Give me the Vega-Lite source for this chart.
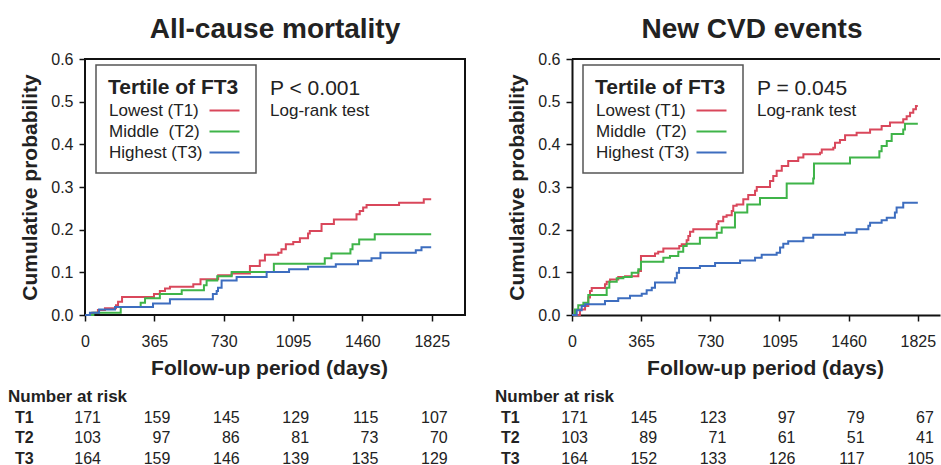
{
  "$schema": "https://vega.github.io/schema/vega-lite/v6.json",
  "background": "white",
  "padding": {"left": 8, "top": 15, "right": 0, "bottom": -1.5},
  "config": {
    "font": "Liberation Sans",
    "view": {"stroke": null},
    "axis": {"grid": false, "labelFont": "Liberation Sans", "labelFontSize": 16, "labelColor": "#222", "titleFont": "Liberation Sans", "titleFontSize": 21, "titleFontWeight": "bold", "titleColor": "#222", "tickColor": "#111", "tickWidth": 1.5, "tickSize": 6, "domainColor": "#111", "domainWidth": 2},
    "title": {"font": "Liberation Sans", "fontSize": 28, "fontWeight": "bold", "color": "#222", "baseline": "alphabetic", "offset": 7, "frame": "group"},
    "legend": {"titleFont": "Liberation Sans", "titleFontSize": 21, "titleFontWeight": "bold", "titleColor": "#222", "labelFont": "Liberation Sans", "labelFontSize": 17, "labelColor": "#222", "strokeColor": "#555", "strokeWidth": 1.5, "fillColor": "white", "padding": 12, "rowPadding": 3, "titlePadding": 4, "titleLimit": 400, "labelLimit": 400},
    "text": {"font": "Liberation Sans", "color": "#222"}
  },
  "datasets": {
    "curves": [
      {"panel":"mort","group":"T1","day":0,"p":0},{"panel":"mort","group":"T1","day":37,"p":0.005},{"panel":"mort","group":"T1","day":68,"p":0.012},{"panel":"mort","group":"T1","day":105,"p":0.016},{"panel":"mort","group":"T1","day":163,"p":0.023},{"panel":"mort","group":"T1","day":174,"p":0.031},{"panel":"mort","group":"T1","day":195,"p":0.042},{"panel":"mort","group":"T1","day":363,"p":0.049},{"panel":"mort","group":"T1","day":394,"p":0.056},{"panel":"mort","group":"T1","day":421,"p":0.062},{"panel":"mort","group":"T1","day":447,"p":0.066},{"panel":"mort","group":"T1","day":570,"p":0.072},{"panel":"mort","group":"T1","day":608,"p":0.084},{"panel":"mort","group":"T1","day":701,"p":0.093},{"panel":"mort","group":"T1","day":772,"p":0.097},{"panel":"mort","group":"T1","day":868,"p":0.115},{"panel":"mort","group":"T1","day":920,"p":0.128},{"panel":"mort","group":"T1","day":947,"p":0.141},{"panel":"mort","group":"T1","day":1017,"p":0.146},{"panel":"mort","group":"T1","day":1034,"p":0.154},{"panel":"mort","group":"T1","day":1057,"p":0.166},{"panel":"mort","group":"T1","day":1096,"p":0.171},{"panel":"mort","group":"T1","day":1131,"p":0.18},{"panel":"mort","group":"T1","day":1174,"p":0.191},{"panel":"mort","group":"T1","day":1183,"p":0.197},{"panel":"mort","group":"T1","day":1245,"p":0.213},{"panel":"mort","group":"T1","day":1310,"p":0.224},{"panel":"mort","group":"T1","day":1429,"p":0.236},{"panel":"mort","group":"T1","day":1446,"p":0.244},{"panel":"mort","group":"T1","day":1464,"p":0.252},{"panel":"mort","group":"T1","day":1482,"p":0.258},{"panel":"mort","group":"T1","day":1653,"p":0.263},{"panel":"mort","group":"T1","day":1783,"p":0.271},{"panel":"mort","group":"T1","day":1822,"p":0.271},
      {"panel":"mort","group":"T2","day":0,"p":0},{"panel":"mort","group":"T2","day":44,"p":0.005},{"panel":"mort","group":"T2","day":188,"p":0.019},{"panel":"mort","group":"T2","day":293,"p":0.029},{"panel":"mort","group":"T2","day":316,"p":0.039},{"panel":"mort","group":"T2","day":394,"p":0.049},{"panel":"mort","group":"T2","day":509,"p":0.058},{"panel":"mort","group":"T2","day":626,"p":0.07},{"panel":"mort","group":"T2","day":640,"p":0.081},{"panel":"mort","group":"T2","day":696,"p":0.091},{"panel":"mort","group":"T2","day":772,"p":0.101},{"panel":"mort","group":"T2","day":994,"p":0.12},{"panel":"mort","group":"T2","day":1262,"p":0.133},{"panel":"mort","group":"T2","day":1297,"p":0.144},{"panel":"mort","group":"T2","day":1397,"p":0.154},{"panel":"mort","group":"T2","day":1408,"p":0.166},{"panel":"mort","group":"T2","day":1443,"p":0.177},{"panel":"mort","group":"T2","day":1525,"p":0.189},{"panel":"mort","group":"T2","day":1822,"p":0.189},
      {"panel":"mort","group":"T3","day":0,"p":0},{"panel":"mort","group":"T3","day":26,"p":0.005},{"panel":"mort","group":"T3","day":74,"p":0.013},{"panel":"mort","group":"T3","day":158,"p":0.019},{"panel":"mort","group":"T3","day":358,"p":0.027},{"panel":"mort","group":"T3","day":447,"p":0.037},{"panel":"mort","group":"T3","day":673,"p":0.049},{"panel":"mort","group":"T3","day":693,"p":0.056},{"panel":"mort","group":"T3","day":700,"p":0.064},{"panel":"mort","group":"T3","day":719,"p":0.081},{"panel":"mort","group":"T3","day":798,"p":0.089},{"panel":"mort","group":"T3","day":956,"p":0.101},{"panel":"mort","group":"T3","day":1074,"p":0.107},{"panel":"mort","group":"T3","day":1174,"p":0.113},{"panel":"mort","group":"T3","day":1320,"p":0.119},{"panel":"mort","group":"T3","day":1437,"p":0.127},{"panel":"mort","group":"T3","day":1508,"p":0.133},{"panel":"mort","group":"T3","day":1555,"p":0.146},{"panel":"mort","group":"T3","day":1741,"p":0.152},{"panel":"mort","group":"T3","day":1771,"p":0.159},{"panel":"mort","group":"T3","day":1822,"p":0.159},
      {"panel":"cvd","group":"T1","day":0,"p":0},{"panel":"cvd","group":"T1","day":42,"p":0.013},{"panel":"cvd","group":"T1","day":69,"p":0.021},{"panel":"cvd","group":"T1","day":86,"p":0.041},{"panel":"cvd","group":"T1","day":95,"p":0.056},{"panel":"cvd","group":"T1","day":104,"p":0.063},{"panel":"cvd","group":"T1","day":174,"p":0.072},{"panel":"cvd","group":"T1","day":183,"p":0.078},{"panel":"cvd","group":"T1","day":201,"p":0.083},{"panel":"cvd","group":"T1","day":244,"p":0.089},{"panel":"cvd","group":"T1","day":280,"p":0.091},{"panel":"cvd","group":"T1","day":350,"p":0.103},{"panel":"cvd","group":"T1","day":364,"p":0.138},{"panel":"cvd","group":"T1","day":438,"p":0.144},{"panel":"cvd","group":"T1","day":455,"p":0.148},{"panel":"cvd","group":"T1","day":482,"p":0.156},{"panel":"cvd","group":"T1","day":566,"p":0.162},{"panel":"cvd","group":"T1","day":579,"p":0.166},{"panel":"cvd","group":"T1","day":605,"p":0.175},{"panel":"cvd","group":"T1","day":614,"p":0.185},{"panel":"cvd","group":"T1","day":623,"p":0.195},{"panel":"cvd","group":"T1","day":640,"p":0.201},{"panel":"cvd","group":"T1","day":764,"p":0.213},{"panel":"cvd","group":"T1","day":772,"p":0.22},{"panel":"cvd","group":"T1","day":798,"p":0.23},{"panel":"cvd","group":"T1","day":816,"p":0.234},{"panel":"cvd","group":"T1","day":843,"p":0.244},{"panel":"cvd","group":"T1","day":851,"p":0.256},{"panel":"cvd","group":"T1","day":869,"p":0.259},{"panel":"cvd","group":"T1","day":904,"p":0.271},{"panel":"cvd","group":"T1","day":930,"p":0.281},{"panel":"cvd","group":"T1","day":966,"p":0.291},{"panel":"cvd","group":"T1","day":975,"p":0.3},{"panel":"cvd","group":"T1","day":1045,"p":0.314},{"panel":"cvd","group":"T1","day":1062,"p":0.326},{"panel":"cvd","group":"T1","day":1080,"p":0.338},{"panel":"cvd","group":"T1","day":1107,"p":0.349},{"panel":"cvd","group":"T1","day":1141,"p":0.361},{"panel":"cvd","group":"T1","day":1194,"p":0.369},{"panel":"cvd","group":"T1","day":1221,"p":0.377},{"panel":"cvd","group":"T1","day":1309,"p":0.38},{"panel":"cvd","group":"T1","day":1318,"p":0.388},{"panel":"cvd","group":"T1","day":1379,"p":0.392},{"panel":"cvd","group":"T1","day":1388,"p":0.404},{"panel":"cvd","group":"T1","day":1414,"p":0.41},{"panel":"cvd","group":"T1","day":1441,"p":0.421},{"panel":"cvd","group":"T1","day":1502,"p":0.427},{"panel":"cvd","group":"T1","day":1573,"p":0.435},{"panel":"cvd","group":"T1","day":1634,"p":0.443},{"panel":"cvd","group":"T1","day":1678,"p":0.451},{"panel":"cvd","group":"T1","day":1748,"p":0.459},{"panel":"cvd","group":"T1","day":1766,"p":0.466},{"panel":"cvd","group":"T1","day":1784,"p":0.474},{"panel":"cvd","group":"T1","day":1801,"p":0.482},{"panel":"cvd","group":"T1","day":1815,"p":0.49},{"panel":"cvd","group":"T1","day":1825,"p":0.49},
      {"panel":"cvd","group":"T2","day":0,"p":0},{"panel":"cvd","group":"T2","day":16,"p":0.013},{"panel":"cvd","group":"T2","day":33,"p":0.023},{"panel":"cvd","group":"T2","day":60,"p":0.029},{"panel":"cvd","group":"T2","day":86,"p":0.047},{"panel":"cvd","group":"T2","day":183,"p":0.064},{"panel":"cvd","group":"T2","day":197,"p":0.078},{"panel":"cvd","group":"T2","day":236,"p":0.086},{"panel":"cvd","group":"T2","day":271,"p":0.089},{"panel":"cvd","group":"T2","day":315,"p":0.099},{"panel":"cvd","group":"T2","day":350,"p":0.107},{"panel":"cvd","group":"T2","day":364,"p":0.125},{"panel":"cvd","group":"T2","day":482,"p":0.134},{"panel":"cvd","group":"T2","day":517,"p":0.138},{"panel":"cvd","group":"T2","day":561,"p":0.148},{"panel":"cvd","group":"T2","day":587,"p":0.162},{"panel":"cvd","group":"T2","day":605,"p":0.167},{"panel":"cvd","group":"T2","day":675,"p":0.181},{"panel":"cvd","group":"T2","day":764,"p":0.193},{"panel":"cvd","group":"T2","day":790,"p":0.205},{"panel":"cvd","group":"T2","day":860,"p":0.24},{"panel":"cvd","group":"T2","day":925,"p":0.259},{"panel":"cvd","group":"T2","day":992,"p":0.274},{"panel":"cvd","group":"T2","day":1133,"p":0.308},{"panel":"cvd","group":"T2","day":1273,"p":0.32},{"panel":"cvd","group":"T2","day":1277,"p":0.355},{"panel":"cvd","group":"T2","day":1467,"p":0.369},{"panel":"cvd","group":"T2","day":1622,"p":0.384},{"panel":"cvd","group":"T2","day":1634,"p":0.396},{"panel":"cvd","group":"T2","day":1661,"p":0.408},{"panel":"cvd","group":"T2","day":1687,"p":0.424},{"panel":"cvd","group":"T2","day":1748,"p":0.435},{"panel":"cvd","group":"T2","day":1757,"p":0.448},{"panel":"cvd","group":"T2","day":1825,"p":0.448},
      {"panel":"cvd","group":"T3","day":0,"p":0},{"panel":"cvd","group":"T3","day":25,"p":0.011},{"panel":"cvd","group":"T3","day":51,"p":0.021},{"panel":"cvd","group":"T3","day":69,"p":0.025},{"panel":"cvd","group":"T3","day":174,"p":0.033},{"panel":"cvd","group":"T3","day":244,"p":0.039},{"panel":"cvd","group":"T3","day":306,"p":0.045},{"panel":"cvd","group":"T3","day":368,"p":0.05},{"panel":"cvd","group":"T3","day":394,"p":0.058},{"panel":"cvd","group":"T3","day":421,"p":0.064},{"panel":"cvd","group":"T3","day":438,"p":0.076},{"panel":"cvd","group":"T3","day":544,"p":0.086},{"panel":"cvd","group":"T3","day":553,"p":0.099},{"panel":"cvd","group":"T3","day":565,"p":0.11},{"panel":"cvd","group":"T3","day":675,"p":0.115},{"panel":"cvd","group":"T3","day":755,"p":0.122},{"panel":"cvd","group":"T3","day":887,"p":0.128},{"panel":"cvd","group":"T3","day":966,"p":0.134},{"panel":"cvd","group":"T3","day":1001,"p":0.141},{"panel":"cvd","group":"T3","day":1080,"p":0.146},{"panel":"cvd","group":"T3","day":1098,"p":0.158},{"panel":"cvd","group":"T3","day":1115,"p":0.167},{"panel":"cvd","group":"T3","day":1141,"p":0.173},{"panel":"cvd","group":"T3","day":1221,"p":0.181},{"panel":"cvd","group":"T3","day":1273,"p":0.188},{"panel":"cvd","group":"T3","day":1441,"p":0.193},{"panel":"cvd","group":"T3","day":1502,"p":0.201},{"panel":"cvd","group":"T3","day":1564,"p":0.209},{"panel":"cvd","group":"T3","day":1573,"p":0.216},{"panel":"cvd","group":"T3","day":1634,"p":0.222},{"panel":"cvd","group":"T3","day":1661,"p":0.228},{"panel":"cvd","group":"T3","day":1704,"p":0.24},{"panel":"cvd","group":"T3","day":1713,"p":0.252},{"panel":"cvd","group":"T3","day":1748,"p":0.263},{"panel":"cvd","group":"T3","day":1825,"p":0.263}
    ],
    "risk": [
      {"panel":"mort","row":"T1","day":0,"n":171},{"panel":"mort","row":"T1","day":365,"n":159},{"panel":"mort","row":"T1","day":730,"n":145},{"panel":"mort","row":"T1","day":1095,"n":129},{"panel":"mort","row":"T1","day":1460,"n":115},{"panel":"mort","row":"T1","day":1825,"n":107},
      {"panel":"mort","row":"T2","day":0,"n":103},{"panel":"mort","row":"T2","day":365,"n":97},{"panel":"mort","row":"T2","day":730,"n":86},{"panel":"mort","row":"T2","day":1095,"n":81},{"panel":"mort","row":"T2","day":1460,"n":73},{"panel":"mort","row":"T2","day":1825,"n":70},
      {"panel":"mort","row":"T3","day":0,"n":164},{"panel":"mort","row":"T3","day":365,"n":159},{"panel":"mort","row":"T3","day":730,"n":146},{"panel":"mort","row":"T3","day":1095,"n":139},{"panel":"mort","row":"T3","day":1460,"n":135},{"panel":"mort","row":"T3","day":1825,"n":129},
      {"panel":"cvd","row":"T1","day":0,"n":171},{"panel":"cvd","row":"T1","day":365,"n":145},{"panel":"cvd","row":"T1","day":730,"n":123},{"panel":"cvd","row":"T1","day":1095,"n":97},{"panel":"cvd","row":"T1","day":1460,"n":79},{"panel":"cvd","row":"T1","day":1825,"n":67},
      {"panel":"cvd","row":"T2","day":0,"n":103},{"panel":"cvd","row":"T2","day":365,"n":89},{"panel":"cvd","row":"T2","day":730,"n":71},{"panel":"cvd","row":"T2","day":1095,"n":61},{"panel":"cvd","row":"T2","day":1460,"n":51},{"panel":"cvd","row":"T2","day":1825,"n":41},
      {"panel":"cvd","row":"T3","day":0,"n":164},{"panel":"cvd","row":"T3","day":365,"n":152},{"panel":"cvd","row":"T3","day":730,"n":133},{"panel":"cvd","row":"T3","day":1095,"n":126},{"panel":"cvd","row":"T3","day":1460,"n":117},{"panel":"cvd","row":"T3","day":1825,"n":105}
    ]
  },
  "columns": 2,
  "spacing": {"row": 9, "column": 29},
  "resolve": {"scale": {"x": "independent", "y": "independent", "color": "independent"}, "legend": {"color": "independent"}},
  "concat": [
    {
      "width": 380, "height": 256,
      "title": {"text": "All-cause mortality"},
      "view": {"stroke": "#111", "strokeWidth": 2},
      "layer": [
        {
          "data": {"name": "curves"},
          "transform": [{"filter": "datum.panel == 'mort'"}],
          "mark": {"type": "line", "interpolate": "step-after", "strokeWidth": 2},
          "encoding": {
            "x": {"field": "day", "type": "quantitative", "scale": {"domain": [0, 2000], "nice": false}, "axis": {"values": [0, 365, 730, 1095, 1460, 1825], "format": "d", "title": "Follow-up period (days)", "domain": false, "labelFlush": false, "labelPadding": 12, "titlePadding": 8, "titleX": 184}},
            "y": {"field": "p", "type": "quantitative", "scale": {"domain": [0, 0.6], "nice": false}, "axis": {"values": [0, 0.1, 0.2, 0.3, 0.4, 0.5, 0.6], "format": ".1f", "title": "Cumulative probability", "domain": false, "labelPadding": 6, "titlePadding": 10}},
            "color": {"field": "group", "type": "nominal", "scale": {"domain": ["T1", "T2", "T3"], "range": ["#d9475b", "#3fb449", "#3d6dbf"]},
              "legend": {"title": "Tertile of FT3", "orient": "none", "legendX": 11, "legendY": 6, "labelExpr": "datum.label == 'T1' ? 'Lowest (T1)' : datum.label == 'T2' ? 'Middle\u00a0 (T2)' : 'Highest (T3)'", "symbolType": "M-3,0H3", "symbolSize": 100, "symbolStrokeWidth": 2, "symbolOffset": 108, "labelOffset": -124}}
          }
        },
        {
          "data": {"values": [{"t": "P < 0.001"}]},
          "mark": {"type": "text", "align": "left", "baseline": "alphabetic", "fontSize": 21},
          "encoding": {"x": {"datum": 974}, "y": {"datum": 0.5156}, "text": {"field": "t"}}
        },
        {
          "data": {"values": [{"t": "Log-rank test"}]},
          "mark": {"type": "text", "align": "left", "baseline": "alphabetic", "fontSize": 17},
          "encoding": {"x": {"datum": 974}, "y": {"datum": 0.4664}, "text": {"field": "t"}}
        }
      ]
    },
    {
      "width": 368, "height": 256,
      "title": {"text": "New CVD events", "dx": -4},
      "view": {"stroke": null},
      "layer": [
        {
          "data": {"values": [{}]},
          "mark": {"type": "rule", "color": "#111", "strokeWidth": 2},
          "encoding": {"y": {"datum": 0.6}}
        },
        {
          "data": {"name": "curves"},
          "transform": [{"filter": "datum.panel == 'cvd'"}],
          "mark": {"type": "line", "interpolate": "step-after", "strokeWidth": 2},
          "encoding": {
            "x": {"field": "day", "type": "quantitative", "scale": {"domain": [0, 1942], "nice": false}, "axis": {"values": [0, 365, 730, 1095, 1460, 1825], "format": "d", "title": "Follow-up period (days)", "domain": true, "labelFlush": false, "labelPadding": 12, "titlePadding": 8, "titleX": 193}},
            "y": {"field": "p", "type": "quantitative", "scale": {"domain": [0, 0.6], "nice": false}, "axis": {"values": [0, 0.1, 0.2, 0.3, 0.4, 0.5, 0.6], "format": ".1f", "title": "Cumulative probability", "domain": true, "labelPadding": 6, "titlePadding": 10}},
            "color": {"field": "group", "type": "nominal", "scale": {"domain": ["T1", "T2", "T3"], "range": ["#d9475b", "#3fb449", "#3d6dbf"]},
              "legend": {"title": "Tertile of FT3", "orient": "none", "legendX": 11, "legendY": 6, "labelExpr": "datum.label == 'T1' ? 'Lowest (T1)' : datum.label == 'T2' ? 'Middle\u00a0 (T2)' : 'Highest (T3)'", "symbolType": "M-3,0H3", "symbolSize": 100, "symbolStrokeWidth": 2, "symbolOffset": 108, "labelOffset": -124}}
          }
        },
        {
          "data": {"values": [{"t": "P = 0.045"}]},
          "mark": {"type": "text", "align": "left", "baseline": "alphabetic", "fontSize": 21},
          "encoding": {"x": {"datum": 976}, "y": {"datum": 0.5156}, "text": {"field": "t"}}
        },
        {
          "data": {"values": [{"t": "Log-rank test"}]},
          "mark": {"type": "text", "align": "left", "baseline": "alphabetic", "fontSize": 17},
          "encoding": {"x": {"datum": 976}, "y": {"datum": 0.4664}, "text": {"field": "t"}}
        }
      ]
    },
    {
      "width": 380, "height": 61.5,
      "layer": [
        {
          "data": {"name": "risk"},
          "transform": [{"filter": "datum.panel == 'mort'"}],
          "mark": {"type": "text", "align": "right", "baseline": "alphabetic", "dx": 16, "fontSize": 16},
          "encoding": {
            "x": {"field": "day", "type": "quantitative", "scale": {"domain": [0, 2000], "nice": false}, "axis": null},
            "y": {"field": "row", "type": "nominal", "scale": {"type": "point", "domain": ["hdr", "T1", "T2", "T3"], "padding": 0}, "axis": null},
            "text": {"field": "n", "type": "quantitative", "format": "d"}
          }
        },
        {
          "data": {"name": "risk"},
          "transform": [{"filter": "datum.panel == 'mort' && datum.day == 0"}],
          "mark": {"type": "text", "align": "left", "baseline": "alphabetic", "dx": -70, "fontSize": 16, "fontWeight": "bold"},
          "encoding": {"x": {"datum": 0}, "y": {"field": "row", "type": "nominal"}, "text": {"field": "row"}}
        },
        {
          "data": {"values": [{"t": "Number at risk"}]},
          "mark": {"type": "text", "align": "left", "baseline": "alphabetic", "dx": -77, "fontSize": 17, "fontWeight": "bold"},
          "encoding": {"x": {"datum": 0}, "y": {"datum": "hdr"}, "text": {"field": "t"}}
        }
      ]
    },
    {
      "width": 368, "height": 61.5,
      "layer": [
        {
          "data": {"name": "risk"},
          "transform": [{"filter": "datum.panel == 'cvd'"}],
          "mark": {"type": "text", "align": "right", "baseline": "alphabetic", "dx": 16, "fontSize": 16},
          "encoding": {
            "x": {"field": "day", "type": "quantitative", "scale": {"domain": [0, 1942], "nice": false}, "axis": null},
            "y": {"field": "row", "type": "nominal", "scale": {"type": "point", "domain": ["hdr", "T1", "T2", "T3"], "padding": 0}, "axis": null},
            "text": {"field": "n", "type": "quantitative", "format": "d"}
          }
        },
        {
          "data": {"name": "risk"},
          "transform": [{"filter": "datum.panel == 'cvd' && datum.day == 0"}],
          "mark": {"type": "text", "align": "left", "baseline": "alphabetic", "dx": -71, "fontSize": 16, "fontWeight": "bold"},
          "encoding": {"x": {"datum": 0}, "y": {"field": "row", "type": "nominal"}, "text": {"field": "row"}}
        },
        {
          "data": {"values": [{"t": "Number at risk"}]},
          "mark": {"type": "text", "align": "left", "baseline": "alphabetic", "dx": -77, "fontSize": 17, "fontWeight": "bold"},
          "encoding": {"x": {"datum": 0}, "y": {"datum": "hdr"}, "text": {"field": "t"}}
        }
      ]
    }
  ]
}
